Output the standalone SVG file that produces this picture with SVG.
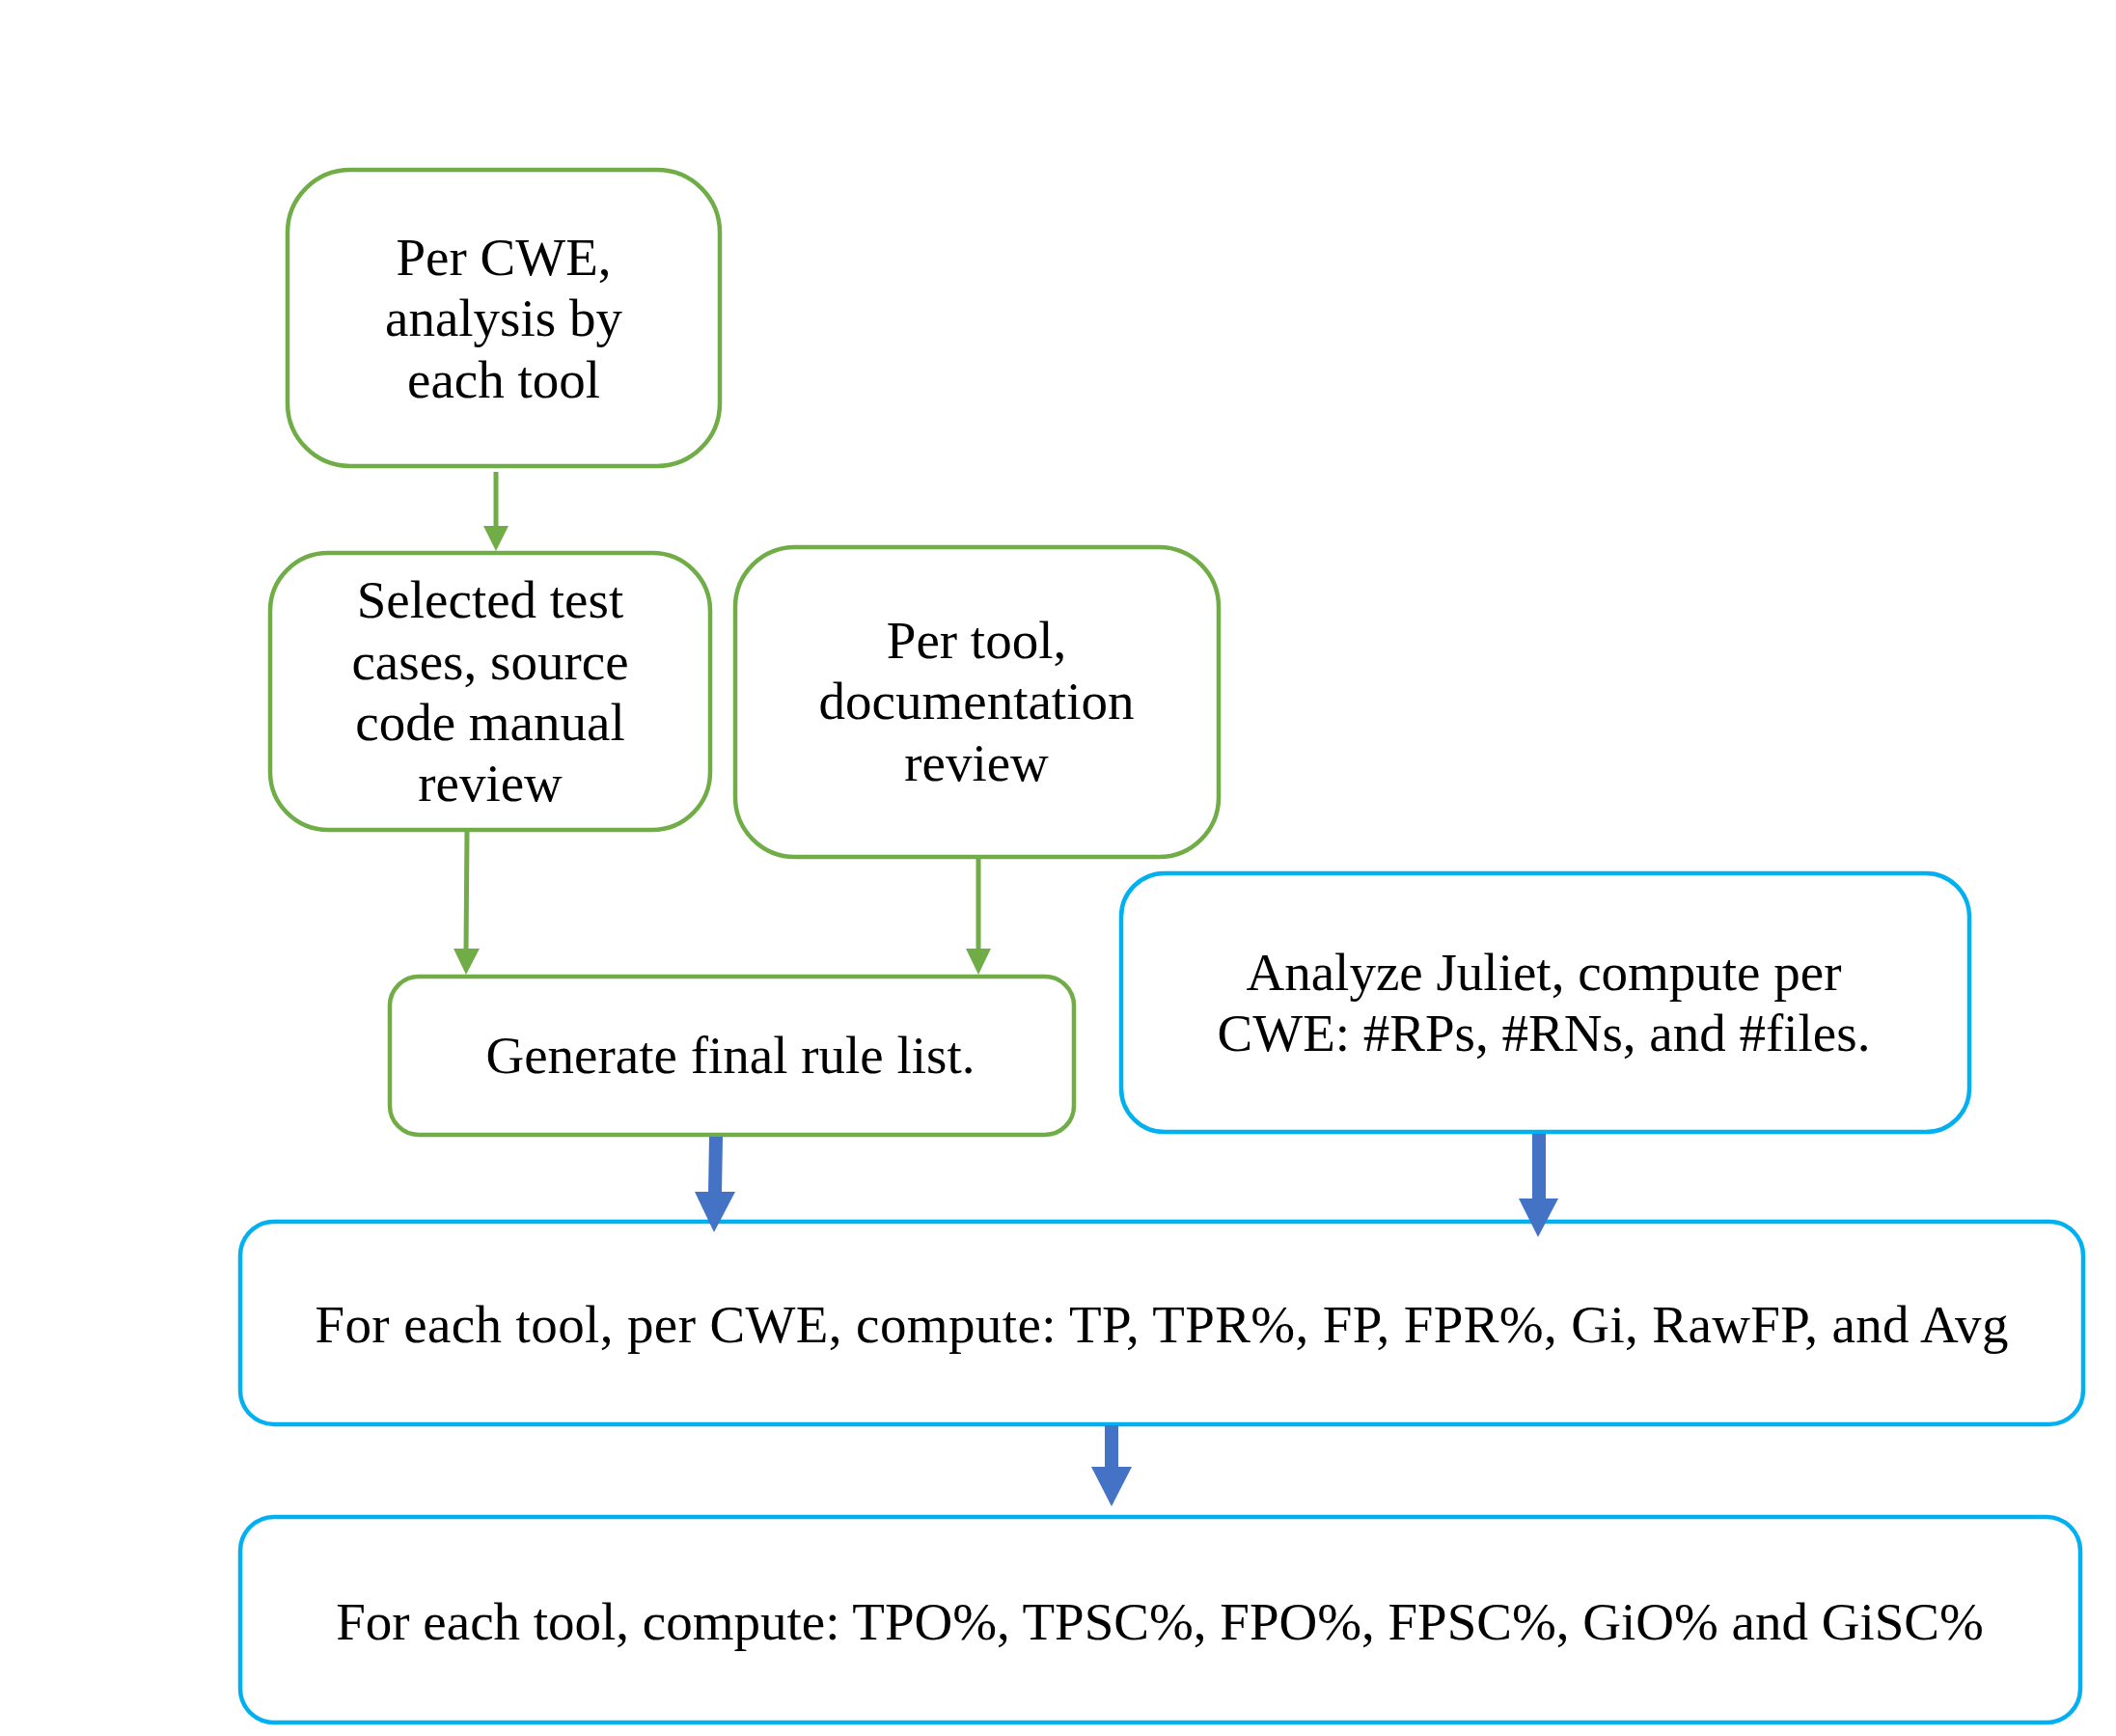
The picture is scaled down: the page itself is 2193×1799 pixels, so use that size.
<svg xmlns="http://www.w3.org/2000/svg" width="2193" height="1799" viewBox="0 0 2193 1799">
<style>
.g{fill:#fff;stroke:#70AD47;stroke-width:4.5}
.b{fill:#fff;stroke:#00B0F0;stroke-width:4.5}
.t{font-family:"Liberation Serif","Times New Roman",serif;font-size:55px;fill:#000;text-anchor:middle}
.gl{stroke:#70AD47;stroke-width:5;fill:none}
.gh{fill:#70AD47}
.bl{stroke:#4472C4;stroke-width:14;fill:none}
.bh{fill:#4472C4}
</style>
<rect width="2193" height="1799" fill="#fff"/>
<g id="n1"><rect class="g" x="298" y="176" width="448" height="307" rx="65"/>
<text class="t" x="522" y="285">Per CWE,</text><text class="t" x="522" y="348">analysis by</text><text class="t" x="522" y="412">each tool</text></g>
<g id="n2"><rect class="g" x="280" y="573" width="456" height="287" rx="60"/>
<text class="t" x="508" y="640">Selected test</text><text class="t" x="508" y="704">cases, source</text><text class="t" x="508" y="767">code manual</text><text class="t" x="508" y="830">review</text></g>
<g id="n3"><rect class="g" x="762" y="567" width="501" height="321" rx="62"/>
<text class="t" x="1012" y="682">Per tool,</text><text class="t" x="1012" y="745">documentation</text><text class="t" x="1012" y="809">review</text></g>
<g id="n4"><rect class="g" x="404" y="1012" width="709" height="164" rx="30"/>
<text class="t" x="757" y="1112">Generate final rule list.</text></g>
<g id="n5"><rect class="b" x="1162" y="905" width="879" height="268" rx="45"/>
<text class="t" x="1600" y="1026">Analyze Juliet, compute per</text><text class="t" x="1600" y="1089">CWE: #RPs, #RNs, and #files.</text></g>
<g id="n6"><rect class="b" x="249" y="1266" width="1910" height="210" rx="35"/>
<text class="t" x="1204" y="1391" textLength="1755" lengthAdjust="spacing">For each tool, per CWE, compute: TP, TPR%, FP, FPR%, Gi, RawFP, and Avg</text></g>
<g id="n7"><rect class="b" x="249" y="1572" width="1907" height="213" rx="35"/>
<text class="t" x="1202" y="1699">For each tool, compute: TPO%, TPSC%, FPO%, FPSC%, GiO% and GiSC%</text></g>
<g id="connectors">
<line class="gl" x1="514" y1="489" x2="514" y2="546"/><polygon class="gh" points="501,545 527,545 514,571"/>
<line class="gl" x1="484" y1="862" x2="483" y2="984"/><polygon class="gh" points="470,983 497,983 483,1010"/>
<line class="gl" x1="1014" y1="890" x2="1014" y2="984"/><polygon class="gh" points="1001,983 1027,983 1014,1010"/>
<line class="bl" x1="742" y1="1178" x2="741" y2="1236"/><polygon class="bh" points="720,1235 762,1235 740,1277"/>
<line class="bl" x1="1595" y1="1175" x2="1595" y2="1243"/><polygon class="bh" points="1574,1242 1615,1242 1594,1282"/>
<line class="bl" x1="1152" y1="1477" x2="1152" y2="1521"/><polygon class="bh" points="1131,1520 1173,1520 1152,1561"/>
</g>
</svg>
